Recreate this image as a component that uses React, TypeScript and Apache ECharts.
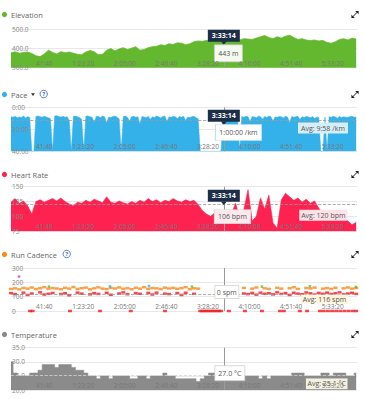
import React, { useEffect, useRef } from 'react';
import * as echarts from 'echarts';

// ---------------- data ----------------
const SAMPLE_STEP_S = 250; // elevation / heart rate / temperature / cadence samples
const PACE_STEP_S = 125;
const DURATION_S = 20800;
const TICK_S = 2500;
const CURSOR_S = 12794; // 3:33:14

const ELEVATION_M = [
  378, 383, 376, 380, 382, 375, 362, 358, 372, 392,
  380, 372, 384, 378, 382, 376, 370, 368, 382, 390,
  384, 368, 370, 392, 400, 388, 398, 405, 395, 402,
  410, 392, 395, 405, 410, 412, 420, 416, 425, 422,
  430, 428, 420, 425, 436, 440, 438, 442, 440, 444,
  442, 443, 445, 440, 448, 445, 452, 450, 448, 455,
  462, 468, 458, 452, 462, 455, 465, 470, 458, 448,
  452, 445, 442, 445, 440, 443, 432, 428, 436, 448,
  452, 445, 455, 450,
];

const PACE_MIN_PER_KM = [
  8.5, 9.0, 8.2, 9.5, 8.8, 9.2, 8.0, 9.8, 8.6, 9.0,
  40, 40,
  8.3, 7.8, 8.5, 9.0, 8.2, 8.8, 9.5, 10.5,
  40,
  8.0, 7.6, 8.4, 8.9, 8.2, 9.1, 8.5, 12.0,
  40,
  8.2, 8.0, 8.6, 9.4, 10.8,
  40,
  8.1, 7.8, 8.6, 9.0, 13.5, 8.4,
  8.2, 9.6, 8.0, 8.5, 14.0, 8.8, 9.2, 8.3, 7.9, 9.0, 10.5,
  40,
  8.4, 8.0, 9.2, 12.5, 8.6, 8.2, 9.0, 8.5, 15.0, 8.3, 8.8, 9.4, 8.1, 11.0, 8.6, 9.2, 8.0,
  8.5, 9.8, 8.3, 8.0, 13.0, 8.7, 9.1, 8.2, 8.6, 10.2, 8.4, 9.0, 8.1, 12.0, 8.8, 9.3, 8.5, 8.2, 9.6, 10.5,
  40, 40, 40, 40, 40, 40, 40, 40, 40, 40, 40,
  8.6, 8.2, 9.0, 8.4, 9.5, 8.1, 8.8, 11.5,
  40,
  8.4, 9.0, 8.2, 8.7, 13.0, 8.3, 8.9, 9.4, 8.1, 8.6, 10.8, 8.4, 9.2, 8.0, 8.5, 12.5, 8.8, 9.1, 8.3,
  8.6, 9.8, 8.2, 8.9, 14.0, 8.4, 9.0, 8.7, 8.2, 11.0, 8.5, 9.3, 8.1, 8.8, 9.5, 8.4, 10.2, 9.0,
  9.0, 40, 40, 8.8, 40,
  8.5, 9.0, 8.2, 8.8, 10.0, 8.4, 9.2, 8.6, 9.0, 9.0, 8.6, 8.2, 9.0, 8.8,
];

const HEART_RATE_BPM = [
  124, 130, 122, 126, 118, 104, 125, 128, 124, 127,
  130, 126, 131, 125, 121, 118, 124, 122, 127, 124,
  129, 126, 123, 133, 124, 122, 126, 123, 121, 125,
  122, 127, 124, 130, 125, 128, 123, 127, 125, 130,
  126, 124, 128, 125, 127, 120, 110, 104, 100, 106,
  103, 106, 110, 104, 122, 98, 112, 145, 92, 100,
  131, 112, 136, 89, 80, 128, 139, 133, 127, 131,
  124, 129, 122, 126, 114, 105, 102, 106, 100, 104,
  98, 92, 86, 90,
];

const TEMPERATURE_C = [
  30, 26, 25, 25, 25, 26, 26, 27, 29, 29,
  29, 28, 29, 29, 29, 28, 27, 27, 26, 25,
  25, 24, 25, 25, 24, 25, 25, 25, 25, 24,
  24, 25, 25, 24, 25, 25, 25, 26, 25, 25,
  24, 24, 24, 24, 24, 23, 24, 25, 26, 26,
  25, 27, 25, 25, 25, 25, 25, 25, 25, 25,
  24, 25, 24, 25, 25, 25, 25, 25, 26, 26,
  26, 25, 25, 25, 25, 26, 26, 25, 26, 26,
  26, 25, 25, 26,
];

const CADENCE_RUN_SPM = [
  154, 158, 151, 161, 156, 164, 153, 159, 166, 155,
  160, 157, 152, 162, 156, 167, 154, 159, 163, 151,
  158, 165, 156, 153, 161, 157, 164, 155, 159, 152,
  162, 156, 166, 154, 160, 158, 153, 163, 157, 161,
  155, 159, 166, 152, 158, 156,
  null, null, null, null, null, null, null, null, null, null,
  161, null, 156, 164, null, 158, 154, null, 162, 156,
  null, 159, 166, 154, null, 161, 157, 163, null, 156,
  160, 154, 162, null, 158, 164, 156, 160,
];

const CADENCE_WALK_SPM = [
  125, 118, null, 128, 112, 122, null, 130, 115, 120,
  126, null, 118, 124, 110, null, 128, 121, null, 116,
  125, 119, null, 127, 113, null, 122, 130, 117, null,
  124, 120, null, 126, 115, 128, null, 121, 118, null,
  125, 112, 127, null, 120, null,
  null, null, null, null, null, null, null, null, null, null,
  122, 118, 126, 114, 128, 120, 124, 116, 130, 119,
  125, 112, 127, 121, 117, 129, 123, 115, 126, 120,
  128, 118, 124, 130, 116, 122, 127, 119,
];

const CADENCE_ZERO_TIMES_S = [
  1142, 1300, 3546, 5349, 7200, 9255,
  11375, 11500, 11625, 11750, 11875, 12000, 12125, 12250, 12375, 12500, 12625,
  13100, 14063, 15084, 16166, 16400, 17368, 17800,
  18570, 18800, 19050, 19300, 19550, 19800, 20050, 20300, 20550, 20750,
];
const CADENCE_GREEN = [[2284, 170], [10877, 170], [15084, 170], [17969, 172], [20733, 168]];
const CADENCE_BLUE = [[5950, 172], [8293, 174]];
const CADENCE_PINK = [[481, 240]];

const PACE_AVG_LINE = 12.2;
const HR_AVG = 120;
const CAD_AVG = 116;
const TEMP_AVG = 25.1;

const AVG_TEXTS = ['Avg: 9:58 /km', 'Avg: 120 bpm', 'Avg: 116 spm', 'Avg: 25.1 °C'];
const CURSOR_TEXT = '3:33:14';
const CURSOR_VALUES = ['443 m', '1:00:00 /km', '106 bpm', '0 spm', '27.0 °C'];
const TITLES = ['Elevation', 'Pace', 'Heart Rate', 'Run Cadence', 'Temperature'];

// ---------------- styling ----------------
const W = 365;
const H = 399;
const FONT = '"Open Sans", "DejaVu Sans", sans-serif';
const GREEN = '#64b82f';
const BLUE = '#35b1ea';
const RED = '#fe2251';
const ORANGE = '#f68a1f';
const CAD_RED = '#ee1c24';
const GRAY = '#8b8b8b';
const NAVY = '#1c2e48';
const DOT_COLORS = [GREEN, BLUE, RED, ORANGE, '#8a8a8a'];

const GRIDS = [
  { top: 29.5, height: 38.2 },
  { top: 107.3, height: 44 },
  { top: 186.7, height: 44.5 },
  { top: 268, height: 43 },
  { top: 347.7, height: 42.3 },
];
const TITLE_Y = [14.5, 94.5, 174.5, 254.5, 334.5];

const pad2 = (n: number) => String(n).padStart(2, '0');
const fmtClock = (s: number) => {
  const h = Math.floor(s / 3600);
  const m = Math.floor((s % 3600) / 60);
  const sec = Math.round(s % 60);
  return h > 0 ? `${h}:${pad2(m)}:${pad2(sec)}` : `${m}:${pad2(sec)}`;
};

const Y_CFG = [
  { min: 300, max: 500, interval: 100, inverse: false, top: 500, fmt: (v: number) => v.toFixed(1) },
  { min: 0, max: 40, interval: 20, inverse: true, top: 0, fmt: (v: number) => `${v}:00` },
  { min: 75, max: 150, interval: 25, inverse: false, top: 150, fmt: (v: number) => String(v) },
  { min: 0, max: 300, interval: 100, inverse: false, top: 300, fmt: (v: number) => String(v) },
  { min: 20, max: 35, interval: 5, inverse: false, top: 35, fmt: (v: number) => v.toFixed(1) },
];

const toPairs = (vals: (number | null)[], step: number) =>
  vals.map((v, i) => [i * step, v]).filter((p) => p[1] !== null);

const labelStyle = (color: string, bold = false) => ({
  show: true,
  position: 'inside',
  color,
  fontSize: 7,
  fontWeight: bold ? 'bold' : 'normal',
  fontFamily: FONT,
});

const box = (
  coord: number[],
  offset: number[],
  size: number[],
  text: string,
  fill: string,
  stroke: string | null,
  textColor: string,
  bold = false
) => ({
  coord,
  symbol: 'rect',
  symbolSize: size,
  symbolOffset: offset,
  itemStyle: { color: fill, borderColor: stroke || fill, borderWidth: stroke ? 0.7 : 0 },
  label: { ...labelStyle(textColor, bold), formatter: text },
});

const arrow = (coord: number[], offset: number[]) => ({
  coord,
  symbol: 'triangle',
  symbolRotate: 180,
  symbolSize: [6, 3.5],
  symbolOffset: offset,
  itemStyle: { color: NAVY },
  label: { show: false },
});

const cursorLine = { xAxis: CURSOR_S, lineStyle: { color: '#9a9a9a', type: 'solid', width: 1 } };
const avgLine = (v: number, color = '#9a9a9a') => ({ yAxis: v, lineStyle: { color, type: 'dashed', width: 0.8 } });
const markLine = (data: any[]) => ({ silent: true, symbol: ['none', 'none'], label: { show: false }, data, animation: false });

function buildOption() {
  const xAxes = GRIDS.map((_, k) => ({
    type: 'value',
    gridIndex: k,
    min: 0,
    max: DURATION_S,
    interval: TICK_S,
    z: 10,
    axisLine: { show: false },
    axisTick: { show: false },
    splitLine: { show: false },
    axisLabel: {
      inside: true,
      margin: 1,
      align: 'right',
      showMinLabel: false,
      showMaxLabel: false,
      color: '#777',
      fontSize: 6.5,
      fontFamily: FONT,
      formatter: fmtClock,
    },
  }));

  const gridAxes = Y_CFG.map((c, k) => ({
    type: 'value',
    gridIndex: k,
    position: 'left',
    min: c.min,
    max: c.max,
    interval: c.interval,
    inverse: c.inverse,
    z: 0,
    axisLine: { show: false },
    axisTick: { show: false },
    axisLabel: { show: false },
    splitLine: { show: true, lineStyle: { color: '#e8e8e8', width: 1 } },
  }));
  const labelAxes = Y_CFG.map((c, k) => ({
    type: 'value',
    gridIndex: k,
    position: 'left',
    offset: 0,
    min: c.min,
    max: c.max,
    interval: c.interval,
    inverse: c.inverse,
    z: 10,
    axisLine: { show: false, onZero: false },
    axisTick: { show: false },
    splitLine: { show: false },
    axisLabel: { inside: true, margin: 1, color: '#888', fontSize: 6.5, fontFamily: FONT, formatter: c.fmt },
  }));

  const top = (k: number) => [CURSOR_S, Y_CFG[k].top];

  const series: any[] = [
    {
      type: 'line',
      xAxisIndex: 0,
      yAxisIndex: 0,
      data: toPairs(ELEVATION_M, SAMPLE_STEP_S),
      symbol: 'none',
      lineStyle: { color: GREEN, width: 0.8 },
      areaStyle: { color: GREEN, opacity: 1 },
      markLine: markLine([cursorLine]),
      markPoint: {
        silent: true,
        animation: false,
        data: [
          box(top(0), [0, 6.3], [32, 12], CURSOR_TEXT, NAVY, null, '#fff', true),
          arrow(top(0), [0, 13.6]),
          box(top(0), [4.6, 23.8], [28, 17], CURSOR_VALUES[0], '#f4faef', '#c8c8c8', '#555'),
        ],
      },
    },
    {
      type: 'line',
      xAxisIndex: 1,
      yAxisIndex: 1,
      data: toPairs(PACE_MIN_PER_KM, PACE_STEP_S),
      symbol: 'none',
      lineStyle: { color: BLUE, width: 0.5 },
      areaStyle: { color: BLUE, opacity: 1, origin: 'end' },
      markLine: markLine([cursorLine, avgLine(PACE_AVG_LINE)]),
      markPoint: {
        silent: true,
        animation: false,
        data: [
          box(top(1), [0, 8.5], [32, 12], CURSOR_TEXT, NAVY, null, '#fff', true),
          arrow(top(1), [0, 15.9]),
          box(top(1), [14.6, 25.2], [46, 16], CURSOR_VALUES[1], '#ffffff', '#bfe2f3', '#555'),
          box([DURATION_S, PACE_AVG_LINE], [-34, 7.3], [50, 11], AVG_TEXTS[0], '#d5eef9', null, '#555'),
        ],
      },
    },
    {
      type: 'line',
      xAxisIndex: 2,
      yAxisIndex: 2,
      data: toPairs(HEART_RATE_BPM, SAMPLE_STEP_S),
      symbol: 'none',
      lineStyle: { color: RED, width: 0.6 },
      areaStyle: { color: RED, opacity: 1 },
      markLine: markLine([cursorLine, avgLine(HR_AVG)]),
      markPoint: {
        silent: true,
        animation: false,
        data: [
          box(top(2), [0, 9.1], [32, 12], CURSOR_TEXT, NAVY, null, '#fff', true),
          arrow(top(2), [0, 16.5]),
          box(top(2), [8.6, 30], [36, 14], CURSOR_VALUES[2], '#fdeaef', '#d8d8d8', '#555'),
          box([DURATION_S, HR_AVG], [-33.7, 10.8], [48, 11], AVG_TEXTS[1], '#fde2e8', null, '#555'),
        ],
      },
    },
    {
      type: 'line',
      xAxisIndex: 4,
      yAxisIndex: 4,
      data: toPairs(TEMPERATURE_C, SAMPLE_STEP_S),
      step: 'middle',
      symbol: 'none',
      lineStyle: { color: GRAY, width: 0.6 },
      areaStyle: { color: GRAY, opacity: 1 },
      markLine: markLine([cursorLine, avgLine(TEMP_AVG, '#d4d4d4')]),
      markPoint: {
        silent: true,
        animation: false,
        data: [
          box(top(4), [6, 25.5], [30, 15], CURSOR_VALUES[4], '#ffffff', '#cccccc', '#555'),
          box([DURATION_S, TEMP_AVG], [-30.3, 8.2], [43, 11], AVG_TEXTS[3], '#f4f0df', '#888888', '#555'),
        ],
      },
    },
    {
      type: 'scatter',
      xAxisIndex: 3,
      yAxisIndex: 3,
      data: CADENCE_ZERO_TIMES_S.map((t) => [t, 0]),
      symbol: 'rect',
      symbolSize: [4, 2.5],
      itemStyle: { color: CAD_RED },
    },
    {
      type: 'scatter',
      xAxisIndex: 3,
      yAxisIndex: 3,
      data: toPairs(CADENCE_WALK_SPM, SAMPLE_STEP_S),
      symbol: 'rect',
      symbolSize: [4, 2.5],
      itemStyle: { color: CAD_RED },
    },
    {
      type: 'scatter',
      xAxisIndex: 3,
      yAxisIndex: 3,
      data: toPairs(CADENCE_RUN_SPM, SAMPLE_STEP_S),
      symbol: 'rect',
      symbolSize: [4.2, 2.5],
      itemStyle: { color: ORANGE },
    },
    {
      type: 'scatter',
      xAxisIndex: 3,
      yAxisIndex: 3,
      data: CADENCE_GREEN,
      symbol: 'rect',
      symbolSize: [2.5, 2.5],
      itemStyle: { color: GREEN },
    },
    {
      type: 'scatter',
      xAxisIndex: 3,
      yAxisIndex: 3,
      data: CADENCE_BLUE,
      symbol: 'rect',
      symbolSize: [2.5, 2.5],
      itemStyle: { color: BLUE },
    },
    {
      type: 'scatter',
      xAxisIndex: 3,
      yAxisIndex: 3,
      data: CADENCE_PINK,
      symbol: 'rect',
      symbolSize: [2.5, 2.5],
      itemStyle: { color: '#e0409a' },
      markLine: markLine([cursorLine, avgLine(CAD_AVG)]),
      markPoint: {
        silent: true,
        animation: false,
        data: [
          box(top(3), [3, 24], [24, 13], CURSOR_VALUES[3], '#ffffff', '#cccccc', '#555'),
          box([DURATION_S, CAD_AVG], [-32.5, 5], [47, 9], AVG_TEXTS[2], '#fdf6dc', null, '#555'),
        ],
      },
    },
  ];

  // panel headers
  const graphics: any[] = [];
  TITLES.forEach((t, k) => {
    const y = TITLE_Y[k];
    graphics.push({ type: 'circle', shape: { cx: 4.5, cy: y, r: 2.6 }, style: { fill: DOT_COLORS[k] } });
    graphics.push({
      type: 'text',
      x: 11,
      y,
      style: { text: t, fill: '#666', font: `7.5px ${FONT}`, verticalAlign: 'middle', align: 'left' },
    });
    // expand icon
    graphics.push({ type: 'line', shape: { x1: 352.5, y1: y + 2.5, x2: 357.5, y2: y - 2.5 }, style: { stroke: '#222', lineWidth: 1 } });
    graphics.push({ type: 'polygon', shape: { points: [[358.6, y - 3.6], [355.2, y - 3.6], [358.6, y - 0.2]] }, style: { fill: '#222' } });
    graphics.push({ type: 'polygon', shape: { points: [[351.4, y + 3.6], [354.8, y + 3.6], [351.4, y + 0.2]] }, style: { fill: '#222' } });
  });
  const help = (cx: number, cy: number) => [
    { type: 'circle', shape: { cx, cy, r: 3.7 }, style: { fill: '#fff', stroke: '#3b5fc4', lineWidth: 0.8 } },
    {
      type: 'text',
      x: cx,
      y: cy + 0.3,
      style: { text: '?', fill: '#3b5fc4', font: `bold 5.5px ${FONT}`, align: 'center', verticalAlign: 'middle' },
    },
  ];
  graphics.push({ type: 'polygon', shape: { points: [[31, TITLE_Y[1] - 1.2], [35, TITLE_Y[1] - 1.2], [33, TITLE_Y[1] + 1.4]] }, style: { fill: '#333' } });
  graphics.push(...help(43.7, TITLE_Y[1] - 0.5));
  graphics.push(...help(66.7, TITLE_Y[3] - 0.5));

  return {
    animation: false,
    backgroundColor: '#fff',
    grid: GRIDS.map((g) => ({ left: 11, right: 8, top: g.top, height: g.height, containLabel: false })),
    xAxis: xAxes,
    yAxis: [...gridAxes, ...labelAxes],
    series,
    graphic: graphics,
  };
}

export default function App() {
  const ref = useRef<HTMLDivElement>(null);
  useEffect(() => {
    if (!ref.current) return;
    const chart = echarts.init(ref.current, undefined, { renderer: 'svg' });
    chart.setOption(buildOption() as any);
    return () => chart.dispose();
  }, []);
  return <div ref={ref} style={{ position: 'absolute', left: 0, top: 0, width: W, height: H, background: '#fff' }} />;
}
